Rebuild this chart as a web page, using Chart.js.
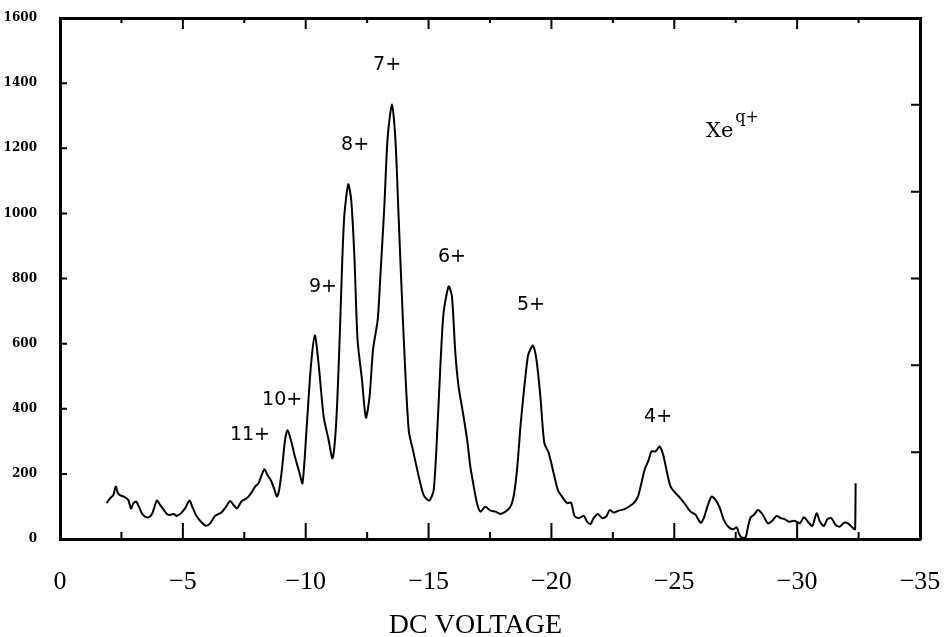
<!DOCTYPE html>
<html>
<head>
<meta charset="utf-8">
<title>Xe q+ DC voltage scan</title>
<script src="https://cdn.jsdelivr.net/npm/chart.js@4/dist/chart.umd.min.js"></script>
<style>
  html, body { margin: 0; padding: 0; background: #fff; }
  canvas { display: block; }
</style>
</head>
<body>
<canvas id="scan" width="951" height="637"></canvas>
<script>
// DC voltage (V) of each sample along the trace
const voltage = [
  -1.90, -2.04, -2.17, -2.27, -2.35, -2.44, -2.65, -2.78, -2.89, -2.99,
  -3.10, -3.22, -3.33, -3.46, -3.62, -3.76, -3.94, -4.07, -4.21, -4.35,
  -4.48, -4.62, -4.75, -4.89, -4.98, -5.09, -5.27, -5.39, -5.53, -5.74,
  -5.93, -6.11, -6.31, -6.56, -6.75, -6.92, -7.06, -7.20, -7.40, -7.60,
  -7.78, -7.94, -8.08, -8.21, -8.32, -8.46, -8.59, -8.73, -8.83, -8.92,
  -9.03, -9.16, -9.26, -9.41, -9.57, -9.74, -9.87, -10.05, -10.21, -10.37,
  -10.52, -10.73, -10.93, -11.09, -11.24, -11.38, -11.47, -11.57, -11.73, -11.85,
  -11.98, -12.11, -12.29, -12.45, -12.60, -12.74, -12.93, -13.03, -13.20, -13.33,
  -13.51, -13.65, -13.78, -13.96, -14.19, -14.39, -14.60, -14.80, -15.03, -15.21,
  -15.37, -15.48, -15.61, -15.82, -15.95, -16.09, -16.22, -16.40, -16.57, -16.70,
  -16.84, -16.97, -17.11, -17.31, -17.52, -17.72, -17.92, -18.13, -18.33, -18.46,
  -18.60, -18.74, -18.87, -19.04, -19.14, -19.25, -19.39, -19.55, -19.71, -19.89,
  -20.09, -20.26, -20.43, -20.64, -20.80, -20.94, -21.11, -21.32, -21.45, -21.59,
  -21.72, -21.89, -22.06, -22.23, -22.37, -22.54, -22.74, -22.95, -23.15, -23.35,
  -23.52, -23.63, -23.79, -23.96, -24.07, -24.24, -24.40, -24.55, -24.71, -24.85,
  -25.05, -25.25, -25.46, -25.66, -25.87, -26.07, -26.20, -26.37, -26.52, -26.68,
  -26.86, -27.02, -27.22, -27.40, -27.54, -27.63, -27.73, -27.90, -28.00, -28.11,
  -28.24, -28.40, -28.54, -28.68, -28.81, -28.99, -29.16, -29.33, -29.49, -29.67,
  -29.87, -30.01, -30.11, -30.28, -30.44, -30.62, -30.79, -30.93, -31.09, -31.23,
  -31.39, -31.57, -31.74, -31.91, -32.07, -32.21, -32.32, -32.36, -32.38
];

// ion counts
const counts = [
  110, 125, 135, 161, 142, 135, 128, 120, 94, 110,
  115, 98, 79, 69, 67, 79, 118, 105, 91, 77,
  74, 77, 71, 77, 84, 94, 118, 98, 74, 53,
  41, 48, 71, 81, 98, 117, 105, 94, 117, 125,
  141, 161, 171, 197, 214, 194, 179, 151, 130, 151,
  212, 305, 334, 300, 250, 205, 171, 356, 530, 625,
  541, 376, 305, 248, 356, 612, 818, 992, 1089, 1043,
  869, 612, 489, 373, 438, 582, 674, 797, 1022, 1228,
  1335, 1228, 992, 664, 335, 264, 192, 135, 118, 151,
  356, 530, 694, 776, 745, 571, 469, 387, 305, 222,
  161, 110, 84, 99, 87, 84, 77, 84, 99, 130,
  212, 346, 448, 561, 582, 594, 551, 438, 295, 264,
  202, 151, 130, 110, 112, 71, 64, 71, 53, 46,
  64, 77, 64, 69, 89, 81, 87, 91, 99, 110,
  130, 161, 212, 243, 269, 269, 284, 258, 202, 161,
  141, 125, 105, 84, 74, 50, 64, 105, 130, 120,
  94, 58, 36, 30, 36, 17, 5, 5, 38, 67,
  74, 89, 81, 64, 48, 56, 71, 64, 61, 53,
  56, 52, 48, 67, 53, 40, 79, 53, 40, 61,
  64, 43, 38, 50, 48, 38, 30, 30, 171
];

// axis ticks
const xTicks = [0, -5, -10, -15, -20, -25, -30, -35];
const xMinorTicks = [-2.5, -7.5, -12.5, -17.5, -22.5, -27.5, -32.5];
const yTicks = [0, 200, 400, 600, 800, 1000, 1200, 1400, 1600];

// charge state labels, placed in data coordinates
const peakLabels = ['11+', '10+', '9+', '8+', '7+', '6+', '5+', '4+'];
const peakLabelVolt = [-7.73, -9.04, -10.70, -12.01, -13.31, -15.95, -19.17, -24.34];
const peakLabelCount = [319, 427, 774, 1210, 1456, 866, 719, 375];

const points = voltage.map((v, i) => ({ x: v, y: counts[i] }));

// inward tick marks on all four sides plus the peak labels
const frameTicks = {
  id: 'frameTicks',
  afterDatasetsDraw(chart) {
    const { ctx, chartArea: a, scales } = chart;
    const x = scales.x, y = scales.y, y2 = scales.y2;
    ctx.save();
    ctx.strokeStyle = '#000';
    ctx.lineWidth = 2;
    ctx.beginPath();
    xTicks.forEach(v => {
      const px = x.getPixelForValue(v);
      ctx.moveTo(px, a.bottom); ctx.lineTo(px, a.bottom - 16);
      ctx.moveTo(px, a.top); ctx.lineTo(px, a.top + 11);
    });
    xMinorTicks.forEach(v => {
      const px = x.getPixelForValue(v);
      ctx.moveTo(px, a.bottom); ctx.lineTo(px, a.bottom - 7);
      ctx.moveTo(px, a.top); ctx.lineTo(px, a.top + 5);
    });
    yTicks.forEach(v => {
      const py = y.getPixelForValue(v);
      ctx.moveTo(a.left, py); ctx.lineTo(a.left + 7, py);
    });
    for (let i = 1; i < 6; i++) {
      const py = y2.getPixelForValue(i);
      ctx.moveTo(a.right, py); ctx.lineTo(a.right - 9, py);
    }
    ctx.stroke();

    ctx.fillStyle = '#000';
    ctx.font = '19px "DejaVu Sans"';
    ctx.textAlign = 'center';
    ctx.textBaseline = 'middle';
    peakLabels.forEach((t, i) => {
      ctx.fillText(t, x.getPixelForValue(peakLabelVolt[i]), y.getPixelForValue(peakLabelCount[i]));
    });

    // Xe^q+ tag
    const tx = x.getPixelForValue(-26.29);
    const ty = y.getPixelForValue(1235);
    ctx.textAlign = 'left';
    ctx.textBaseline = 'alphabetic';
    ctx.font = '21px "DejaVu Serif"';
    ctx.fillText('Xe', tx, ty);
    const w = ctx.measureText('Xe').width;
    ctx.font = '16px "DejaVu Serif"';
    ctx.fillText('q+', tx + w + 2, ty - 15);
    ctx.restore();
  }
};

const frame = { display: true, color: '#000', width: 3 };
const noPad = s => { s.paddingLeft = 0; s.paddingRight = 0; s.paddingTop = 0; s.paddingBottom = 0; };

new Chart(document.getElementById('scan'), {
  type: 'line',
  data: {
    datasets: [{
      data: points,
      borderColor: '#000',
      borderWidth: 2,
      pointRadius: 0,
      tension: 0.25,
      fill: false
    }]
  },
  options: {
    responsive: false,
    animation: false,
    layout: { padding: 0 },
    plugins: {
      legend: { display: false },
      tooltip: { enabled: false },
      title: {
        display: true,
        position: 'bottom',
        text: 'DC VOLTAGE',
        color: '#000',
        font: { family: '"Liberation Serif"', size: 28, weight: 'normal', lineHeight: 0.8 },
        padding: { top: 6, bottom: 0 }
      }
    },
    scales: {
      x: {
        type: 'linear',
        position: 'bottom',
        min: -35,
        max: 0,
        reverse: true,
        grid: { display: false },
        border: frame,
        afterBuildTicks: s => { s.ticks = xTicks.map(v => ({ value: v })); },
        afterFit: s => { s.height = 69.6; noPad(s); },
        ticks: {
          color: '#000',
          padding: 20,
          maxRotation: 0,
          font: { family: '"Liberation Serif"', size: 26 },
          callback: v => v === 0 ? '0' : '\u2212' + Math.abs(v)
        }
      },
      x2: {
        type: 'linear',
        position: 'top',
        min: -35,
        max: 0,
        reverse: true,
        grid: { display: false },
        border: frame,
        ticks: { display: false },
        afterFit: s => { s.height = 18; noPad(s); }
      },
      y: {
        type: 'linear',
        position: 'left',
        min: 0,
        max: 1600,
        grid: { display: false },
        border: frame,
        afterBuildTicks: s => { s.ticks = yTicks.map(v => ({ value: v })); },
        afterFit: s => { s.width = 60; noPad(s); },
        ticks: {
          color: '#000',
          padding: 15,
          font: { family: '"DejaVu Serif"', size: 12, weight: 'bold' },
          callback: v => String(v)
        }
      },
      y2: {
        type: 'linear',
        position: 'right',
        min: 0,
        max: 6,
        grid: { display: false },
        border: frame,
        ticks: { display: false },
        afterFit: s => { s.width = 31; noPad(s); }
      }
    }
  },
  plugins: [frameTicks]
});
</script>
</body>
</html>
